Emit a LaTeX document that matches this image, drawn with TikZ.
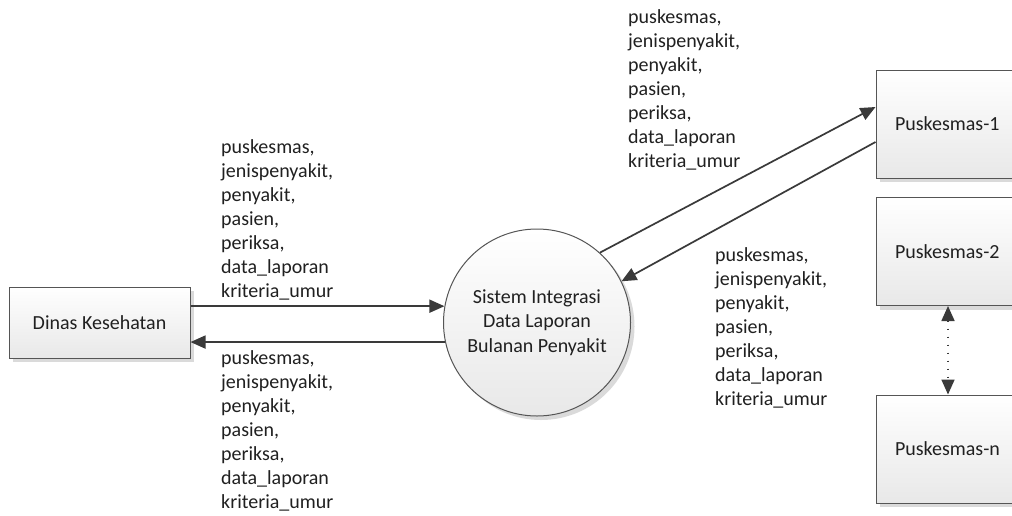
\documentclass[tikz,border=0pt]{standalone}
\usepackage{fontspec}
\setmainfont{Carlito}
\usetikzlibrary{arrows.meta,shadows,calc}
\definecolor{txt}{HTML}{202020}
\definecolor{ln}{HTML}{3A3A3A}
\definecolor{bd}{HTML}{555555}
\newcommand\flowlabel{\begin{tabular}[t]{@{}l@{}}puskesmas,\\jenispenyakit,\\penyakit,\\pasien,\\periksa,\\data\_laporan\\kriteria\_umur\end{tabular}}
\begin{document}
\begin{tikzpicture}[x=1pt,y=-1pt,
  every node/.style={font=\fontsize{20}{24}\selectfont, text=txt},
  boxshape/.style={draw=bd, line width=1pt, top color=white, bottom color=black!9,
    drop shadow={shadow xshift=4pt, shadow yshift=-4pt, fill=black!18, opacity=0.8}, inner sep=0pt},
  pbox/.style={boxshape, minimum width=144pt, minimum height=108pt, text width=106pt, inner xsep=19pt, align=left},
  lbl/.style={anchor=base west, inner sep=0pt},
  arr/.style={draw=ln, line width=1.7pt, -{Triangle[length=15pt,width=13pt]}},
  darr/.style={draw=ln, line width=1.7pt, {Triangle[length=15pt,width=13pt]}-{Triangle[length=15pt,width=13pt]}, dash pattern=on 1.7pt off 6.3pt}]
\clip (0,0) rectangle (1012,515);
\fill[white] (0,0) rectangle (1012,515);

\node[boxshape, minimum width=181pt, minimum height=71pt] (dk) at (99.5,322.5) {Dinas Kesehatan};
\node[boxshape, circle, minimum size=187pt, align=center, font=\fontsize{20}{24.5}\selectfont] (circ) at (537,322.5) {Sistem Integrasi\\Data Laporan\\Bulanan Penyakit};
\node[pbox] (p1) at (948,124) {Puskesmas-1};
\node[pbox] (p2) at (948,251.5) {Puskesmas-2};
\node[pbox] (pn) at (948,449) {Puskesmas-n};

\draw[arr] (circ.170.1 -| dk.east) -- (circ.170.1);
\draw[arr] (circ.192.3) -- (circ.192.3 -| dk.east);
\draw[arr] (circ.48.9) -- ([yshift=17pt]p1.west);
\draw[arr] ([yshift=-18pt]p1.west) -- (circ.26);
\draw[darr] (p2.south) -- (pn.north);

\node[lbl] (l1) at (221,153) {\flowlabel};
\node[lbl] (l2) at (221,364) {\flowlabel};
\node[lbl] (l3) at (628,23) {\flowlabel};
\node[lbl] (l4) at (715,261) {\flowlabel};
\end{tikzpicture}
\end{document}
